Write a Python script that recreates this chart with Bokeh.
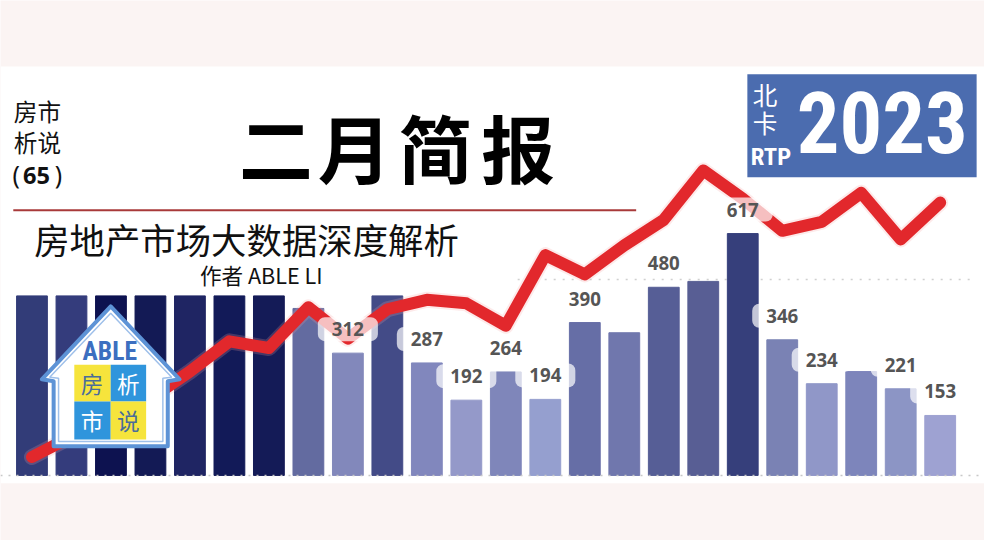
from bokeh.plotting import figure
from bokeh.models import Range1d, ColumnDataSource, Span
from bokeh.embed import file_html
from bokeh.resources import INLINE
from bokeh.core.properties import value

# ---------------- data ----------------
bar_index = list(range(24))
bar_values = [458, 458, 458, 458, 458, 458, 458, 426, 312, 458, 287, 192,
              264, 194, 390, 364, 480, 495, 617, 346, 234, 265, 221, 153]
bar_colors = ["#323c78", "#343c7c", "#0d1250", "#131a55", "#1f2563", "#121a58",
              "#141b57", "#636ba0", "#8288bb", "#434b87", "#8187bd", "#9499c9",
              "#7f86ba", "#959fcf", "#666ea6", "#7077ad", "#565e96", "#585e94",
              "#363f7b", "#7a82b4", "#9097c8", "#7d85bb", "#8c95c5", "#9ea2d2"]
line_values = [47, 99, 146, 196, 265, 342, 325, 429, 349, 424, 448, 439,
               382, 562, 513, 587, 652, 778, 706, 624, 647, 721, 602, 696]
label_index = [8, 10, 11, 12, 13, 14, 16, 18, 19, 20, 22, 23]
label_text = ["312", "287", "192", "264", "194", "390", "480", "617", "346", "234", "221", "153"]
grid_values = [0, 500]

W, H = 984, 540
K = W / 1000.0


def fs(n):
    return f"{n * K:.1f}px"


p = figure(width=W, height=H, output_backend="svg", toolbar_location=None,
           x_range=Range1d(-0.797, 24.122), y_range=Range1d(-166.0, 1211.6),
           min_border=0, background_fill_color="#fbf4f3", border_fill_color="#fbf4f3")
p.axis.visible = False
p.xgrid.visible = False
p.ygrid.visible = False
p.outline_line_color = None
# reference-image pixel space for decorations
p.extra_x_ranges = {"px": Range1d(0, 1000)}
p.extra_y_ranges = {"px": Range1d(556, 0)}
PX = dict(x_range_name="px", y_range_name="px")

# white panel
p.quad(left=[0], right=[1000], top=[68], bottom=[497], color="white", line_color=None, **PX)

# grid lines
p.add_layout(Span(location=grid_values[0], dimension="width", line_color="#c8c8c8",
                  line_dash="2 6", line_width=1.5))
p.segment(x0=[12.3], x1=[23.9], y0=[grid_values[1]], y1=[grid_values[1]],
          line_color="#d0d0d0", line_dash="2 7", line_width=1.5)

# bars
src = ColumnDataSource(dict(x=bar_index, top=bar_values, color=bar_colors))
p.vbar(x="x", top="top", width=0.78, color="color", source=src)

# red line with soft glow
p.line(bar_index, line_values, line_width=16, color="#f4a0a0", alpha=0.22,
       line_join="round", line_cap="round")
p.line(bar_index, line_values, line_width=12, color="#e2282c",
       line_join="round", line_cap="round")

# value labels
lab_src = ColumnDataSource(dict(x=label_index, y=[bar_values[i] for i in label_index], t=label_text))
p.text(x="x", y="y", text="t", source=lab_src, y_offset=-24,
       text_align="center", text_baseline="middle",
       text_font=value("Open Sans"), text_font_style="bold", text_font_size=fs(19),
       text_color="#555555", background_fill_color="white", background_fill_alpha=0.7,
       border_radius=7, padding=dict(left=14, right=14, top=5, bottom=5))

# ---------------- header decorations ----------------
CJK = value("Noto Sans CJK SC")
NARROW = value("Roboto Condensed, DejaVu Sans Condensed, Roboto")

# left stack
p.text(x=[37.5, 37.5], y=[114, 146], text=["房市", "析说"], text_font=CJK,
       text_font_size=fs(24), text_color="#111111", text_align="center",
       text_baseline="middle", **PX)
p.text(x=[16, 59], y=[179, 179], text=["(", ")"], text_font=value("Noto Sans"),
       text_font_size=fs(25), text_color="#111111",
       text_align="center", text_baseline="middle", **PX)
p.text(x=[36.5], y=[180], text=["65"], text_font=value("Noto Sans"),
       text_font_size=fs(24), text_font_style="bold", text_color="#111111",
       text_align="center", text_baseline="middle", **PX)

# big title
p.text(x=[280, 360, 442, 526], y=[149, 149, 149, 149], text=["二", "月", "简", "报"],
       text_font=CJK, text_font_style="bold", text_font_size=fs(75), text_color="#000000",
       text_align="center", text_baseline="middle", **PX)

# divider
p.segment(x0=[13], x1=[646], y0=[216], y1=[216], line_color="#a83a3a", line_width=2, **PX)

# subtitle and author
p.text(x=[250], y=[245], text=["房地产市场大数据深度解析"], text_font=CJK,
       text_font_size=fs(36), text_color="#111111", text_align="center",
       text_baseline="middle", **PX)
p.text(x=[265], y=[282], text=["作者 ABLE LI"], text_font=CJK,
       text_font_size=fs(22), text_color="#111111", text_align="center",
       text_baseline="middle", **PX)

# blue box
p.quad(left=[759], right=[992], top=[76], bottom=[182], color="#4b6caf", line_color=None, **PX)
p.text(x=[896], y=[126], text=["2023"], text_font=NARROW, text_font_style="bold",
       text_font_size=fs(86), text_color="white", text_align="center",
       text_baseline="middle", **PX)
p.text(x=[777, 777], y=[96, 125], text=["北", "卡"], text_font=CJK,
       text_font_size=fs(25), text_color="white", text_align="center",
       text_baseline="middle", **PX)
p.text(x=[783], y=[161], text=["RTP"], text_font=NARROW, text_font_style="bold",
       text_font_size=fs(25), text_color="white", text_align="center",
       text_baseline="middle", **PX)

# ---------------- logo (house) ----------------
p.patch(x=[112, 182, 170, 170, 54, 54, 42], y=[315, 390, 392, 459, 459, 392, 390],
        fill_color="white", line_color="#5d93d6", line_width=4, line_join="round", **PX)
p.patch(x=[112, 174, 165, 165, 59, 59, 50], y=[322, 388, 389, 454, 454, 389, 388],
        fill_color="white", line_color="#9fc0ea", line_width=1.5, **PX)
p.text(x=[111], y=[361], text=["ABLE"], text_font=NARROW, text_font_style="bold",
       text_font_size=fs(26), text_color="#3c6fc0", text_align="center",
       text_baseline="middle", **PX)
p.quad(left=[75, 112, 75, 112], right=[112, 148, 112, 148],
       top=[375, 375, 413, 413], bottom=[413, 413, 452, 452],
       color=["#f6e43c", "#2f95dc", "#2f95dc", "#f6e43c"], line_color=None, **PX)
p.text(x=[93, 130, 93, 130], y=[394, 394, 432, 432], text=["房", "析", "市", "说"],
       text_font=CJK, text_font_size=fs(23),
       text_color=["#4a6d9a", "white", "white", "#4a6d9a"], text_align="center",
       text_baseline="middle", **PX)

open("out.html", "w").write(file_html(p, INLINE))
